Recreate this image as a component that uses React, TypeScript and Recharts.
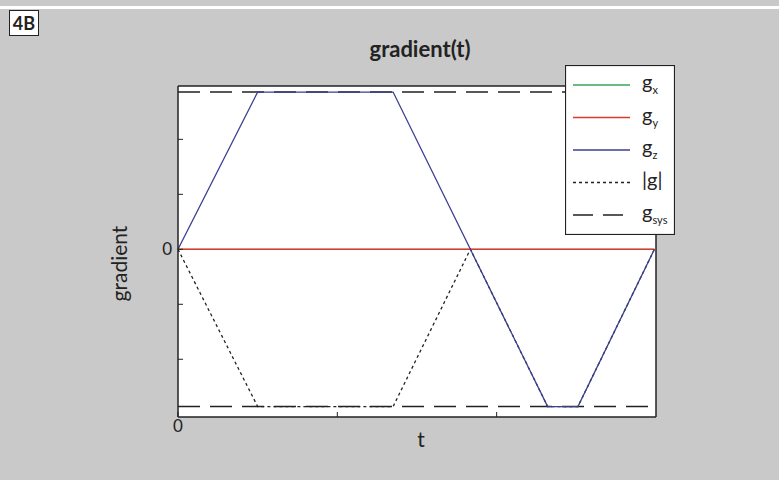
import React from "react";
import { Legend, Line, LineChart, XAxis, YAxis, CartesianGrid } from "recharts";

// breakpoints of the trapezoidal waveform along t
const tPoints = [0, 1, 2.7, 3.67, 4.64, 5.02, 5.98];
const gxValues = [0, 0, 0, 0, 0, 0, 0];
const gyValues = [0, 0, 0, 0, 0, 0, 0];
const gzValues = [0, 2.86, 2.86, 0, -2.86, -2.86, 0];
const gMagValues = [0, -2.86, -2.86, 0, -2.86, -2.86, 0];
const gSysLimit = 2.86;

const yTicks = [-2, -1, 0, 1, 2];
const xTicks = [0, 2, 4];

const rows = tPoints.map((t, i) => ({
  t,
  gx: gxValues[i],
  gy: gyValues[i],
  gz: gzValues[i],
  gmag: gMagValues[i],
  gsysHi: gSysLimit,
  gsysLo: -gSysLimit,
}));

const INK = "#222";
const FONT = "Lato, Roboto, sans-serif";

const legendRows = [
  { key: "gx", base: "g", sub: "x", color: "#3aa655", dash: undefined as string | undefined },
  { key: "gy", base: "g", sub: "y", color: "#d93a2f", dash: undefined },
  { key: "gz", base: "g", sub: "z", color: "#3b3f8f", dash: undefined },
  { key: "gmag", base: "|g|", sub: "", color: INK, dash: "3 3" },
  { key: "gsys", base: "g", sub: "sys", color: INK, dash: "20 10" },
];

function LegendBox() {
  return (
    <svg width={110} height={170} style={{ display: "block" }}>
      <rect x={0.5} y={0.5} width={109} height={169} fill="#fff" stroke={INK} strokeWidth={1.2} />
      {legendRows.map((r, i) => {
        const y = 20 + i * 32.5;
        return (
          <g key={r.key}>
            <line x1={8} x2={65} y1={y} y2={y} stroke={r.color} strokeWidth={1.6} strokeDasharray={r.dash} />
            <text x={77} y={y + 4} fontSize={20} fill={INK} fontFamily={FONT}>
              {r.base}
              {r.sub && (
                <tspan fontSize={11} dy={5}>
                  {r.sub}
                </tspan>
              )}
            </text>
          </g>
        );
      })}
    </svg>
  );
}

export default function App() {
  const axisProps = {
    axisLine: { stroke: INK, strokeWidth: 1.5 },
    tickLine: { stroke: INK, strokeWidth: 1 },
    tickSize: -5,
  };
  return (
    <div
      style={{
        position: "fixed",
        left: 0,
        top: 0,
        width: 779,
        height: 480,
        background: "#c9c9c9",
        overflow: "hidden",
        fontFamily: FONT,
        color: INK,
      }}
    >
      <div style={{ position: "absolute", left: 0, top: 6, width: 779, height: 3, background: "#fff" }} />
      <div
        style={{
          position: "absolute",
          left: 9,
          top: 10,
          width: 28,
          height: 24,
          border: `1px solid ${INK}`,
          background: "#fff",
          fontWeight: 700,
          fontSize: 18,
          lineHeight: "24px",
          textAlign: "center",
        }}
      >
        4B
      </div>
      <div
        style={{
          position: "absolute",
          left: 320,
          width: 200,
          top: 35,
          textAlign: "center",
          fontWeight: 700,
          fontSize: 22,
        }}
      >
        gradient(t)
      </div>
      <div
        style={{
          position: "absolute",
          left: 68,
          top: 251,
          width: 100,
          textAlign: "center",
          fontSize: 21,
          transform: "rotate(-90deg)",
        }}
      >
        gradient
      </div>
      <div style={{ position: "absolute", left: 371, width: 100, top: 426, textAlign: "center", fontSize: 21 }}>
        t
      </div>

      <LineChart
        width={779}
        height={480}
        data={rows}
        margin={{ top: 85, right: 122, bottom: 62, left: 177 }}
        style={{ position: "absolute", left: 0, top: 0 }}
      >
        <CartesianGrid horizontal={false} vertical={false} fill="#fff" />
        <Line xAxisId="bottom" yAxisId="left" dataKey="gsysHi" stroke={INK} strokeWidth={1.5} strokeDasharray="22 10" dot={false} isAnimationActive={false} />
        <Line xAxisId="bottom" yAxisId="left" dataKey="gsysLo" stroke={INK} strokeWidth={1.5} strokeDasharray="22 10" dot={false} isAnimationActive={false} />
        <Line xAxisId="bottom" yAxisId="left" dataKey="gmag" stroke={INK} strokeWidth={1.3} strokeDasharray="3 3" dot={false} isAnimationActive={false} />
        <Line xAxisId="bottom" yAxisId="left" dataKey="gx" stroke="#3aa655" strokeWidth={1} dot={false} isAnimationActive={false} />
        <Line xAxisId="bottom" yAxisId="left" dataKey="gy" stroke="#d93a2f" strokeWidth={1.6} dot={false} isAnimationActive={false} />
        <Line xAxisId="bottom" yAxisId="left" dataKey="gz" stroke="#3b3f8f" strokeWidth={1.3} dot={false} isAnimationActive={false} />
        <XAxis
          xAxisId="bottom"
          dataKey="t"
          type="number"
          domain={[0, 6]}
          ticks={xTicks}
          height={1}
          tickMargin={8}
          tickFormatter={(v: number) => (v === 0 ? "0" : "")}
          tick={{ fontSize: 17, fill: INK, fontFamily: FONT }}
          {...axisProps}
        />
        <XAxis
          xAxisId="top"
          orientation="top"
          dataKey="t"
          type="number"
          domain={[0, 6]}
          ticks={[2, 4]}
          height={1}
          tick={false}
          {...axisProps}
        />
        <YAxis
          yAxisId="left"
          type="number"
          domain={[-3.05, 2.97]}
          allowDataOverflow
          ticks={yTicks}
          width={1}
          tickMargin={11}
          tickFormatter={(v: number) => (v === 0 ? "0" : "")}
          tick={{ fontSize: 17, fill: INK, fontFamily: FONT }}
          {...axisProps}
        />
        <YAxis
          yAxisId="right"
          orientation="right"
          type="number"
          domain={[-3.05, 2.97]}
          allowDataOverflow
          ticks={[-2, -1, 1, 2]}
          width={1}
          tick={false}
          {...axisProps}
        />
        <Legend
          layout="horizontal"
          verticalAlign="middle"
          align="center"
          content={() => <LegendBox />}
          wrapperStyle={{ left: 565, top: 65, width: 110, height: 170 }}
        />
      </LineChart>
    </div>
  );
}
